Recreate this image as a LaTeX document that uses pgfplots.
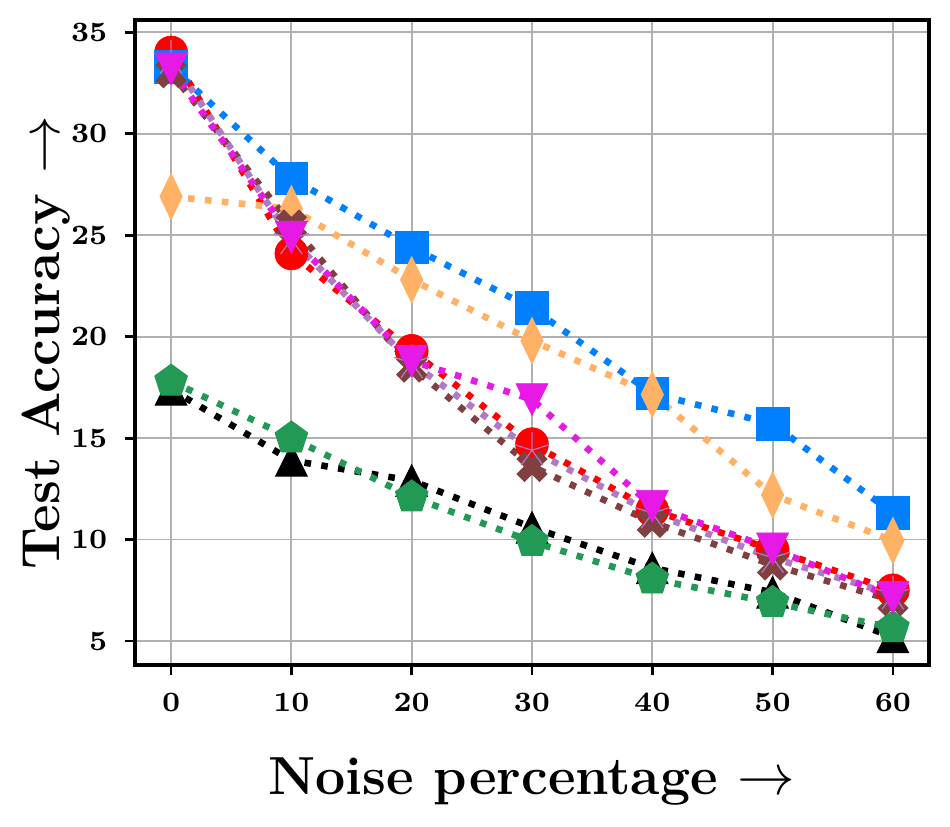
\documentclass[border=0pt]{standalone}
\usepackage{pgfplots}
\pgfplotsset{compat=1.18}
\definecolor{cred}{RGB}{255,0,0}
\definecolor{cblue}{RGB}{0,128,255}
\definecolor{corange}{RGB}{255,178,102}
\definecolor{cgreen}{RGB}{34,153,84}
\definecolor{cbrown}{RGB}{128,64,64}
\definecolor{cpurple}{RGB}{176,122,200}
\definecolor{cmagenta}{RGB}{230,25,230}
\pgfdeclareplotmark{Xfill}{%
  \pgftransformrotate{45}%
  \pgfpathmoveto{\pgfqpoint{-0.333\pgfplotmarksize}{-\pgfplotmarksize}}%
  \pgfpathlineto{\pgfqpoint{0.333\pgfplotmarksize}{-\pgfplotmarksize}}%
  \pgfpathlineto{\pgfqpoint{0.333\pgfplotmarksize}{-0.333\pgfplotmarksize}}%
  \pgfpathlineto{\pgfqpoint{\pgfplotmarksize}{-0.333\pgfplotmarksize}}%
  \pgfpathlineto{\pgfqpoint{\pgfplotmarksize}{0.333\pgfplotmarksize}}%
  \pgfpathlineto{\pgfqpoint{0.333\pgfplotmarksize}{0.333\pgfplotmarksize}}%
  \pgfpathlineto{\pgfqpoint{0.333\pgfplotmarksize}{\pgfplotmarksize}}%
  \pgfpathlineto{\pgfqpoint{-0.333\pgfplotmarksize}{\pgfplotmarksize}}%
  \pgfpathlineto{\pgfqpoint{-0.333\pgfplotmarksize}{0.333\pgfplotmarksize}}%
  \pgfpathlineto{\pgfqpoint{-\pgfplotmarksize}{0.333\pgfplotmarksize}}%
  \pgfpathlineto{\pgfqpoint{-\pgfplotmarksize}{-0.333\pgfplotmarksize}}%
  \pgfpathlineto{\pgfqpoint{-0.333\pgfplotmarksize}{-0.333\pgfplotmarksize}}%
  \pgfpathclose
  \pgfusepathqfillstroke
}
\begin{document}
\begin{tikzpicture}
\begin{axis}[
  name=ax,
  scale only axis,
  width=198.5pt, height=161.25pt,
  xmin=-3, xmax=63, ymin=3.82, ymax=35.6,
  xtick={0,10,20,30,40,50,60},
  ytick={5,10,15,20,25,30,35},
  grid=major,
  major grid style={color=black!31, line width=0.45pt},
  axis line style={line width=0.8pt},
  tick align=outside,
  major tick length=2.5pt,
  tick style={black, line width=0.7pt},
  xtick pos=bottom, ytick pos=left,
  /pgf/number format/assume math mode=true,
  ticklabel style={font=\fontsize{7}{8}\selectfont\bfseries},
  xticklabel style={yshift=-1pt},
  yticklabel style={xshift=-0.9pt},
  xlabel={Noise percentage $\rightarrow$},
  ylabel={Test Accuracy $\rightarrow$},
  label style={font=\fontsize{13.4}{15}\selectfont\bfseries},
  xlabel style={at={(axis description cs:0.5,-0.18)}, anchor=center},
  ylabel style={at={(axis description cs:-0.112,0.5)}, anchor=center},
  every axis plot/.append style={line width=1.65pt, dash pattern=on 1.65pt off 2.6pt},
  clip=false,
]
\addplot[color=cred, mark=*, mark size=4.1pt, mark options={solid, line width=0.2pt}]
  coordinates {(0,34.0)(10,24.1)(20,19.3)(30,14.7)(40,11.45)(50,9.5)(60,7.5)};
\addplot[color=cblue, mark=square*, mark size=4.1pt, mark options={solid, line width=0.2pt}]
  coordinates {(0,33.3)(10,27.8)(20,24.4)(30,21.4)(40,17.2)(50,15.7)(60,11.3)};
\addplot[color=corange, mark=diamond*, mark size=5.8pt, mark options={solid, line width=0.2pt, xscale=0.64}]
  coordinates {(0,26.9)(10,26.3)(20,22.8)(30,19.8)(40,17.15)(50,12.2)(60,9.95)};
\addplot[color=black, mark=triangle*, mark size=5.3pt, mark options={solid, line width=0.2pt, xscale=0.866, yshift=-1.3pt}]
  coordinates {(0,17.4)(10,13.9)(20,12.9)(30,10.6)(40,8.6)(50,7.4)(60,5.2)};
\addplot[color=cgreen, mark=pentagon*, mark size=4.3pt, mark options={solid, line width=0.2pt}]
  coordinates {(0,17.8)(10,15.0)(20,12.1)(30,9.9)(40,8.05)(50,6.9)(60,5.65)};
\addplot[color=cbrown, mark=Xfill, mark size=4pt, mark options={solid, line width=0.2pt}]
  coordinates {(0,33.0)(10,25.5)(20,18.5)(30,13.6)(40,10.85)(50,8.75)(60,7.0)};
\addplot[color=cpurple, mark=star, mark size=4.6pt, mark options={solid, line width=0.3pt, fill=cpurple}]
  coordinates {(0,33.7)(10,24.8)(20,18.7)(30,14.4)(40,11.3)(50,9.1)(60,7.3)};
\addplot[color=cmagenta, mark=triangle*, mark size=5.3pt, mark options={solid, line width=0.2pt, rotate=180, xscale=0.866, yshift=-1.3pt}]
  coordinates {(0,33.2)(10,24.9)(20,18.8)(30,16.9)(40,11.65)(50,9.55)(60,7.15)};
\end{axis}
\pgfresetboundingbox
\path ([shift={(-33.75pt,-40.25pt)}]ax.south west) rectangle ([shift={(5.25pt,5pt)}]ax.north east);
\end{tikzpicture}
\end{document}
